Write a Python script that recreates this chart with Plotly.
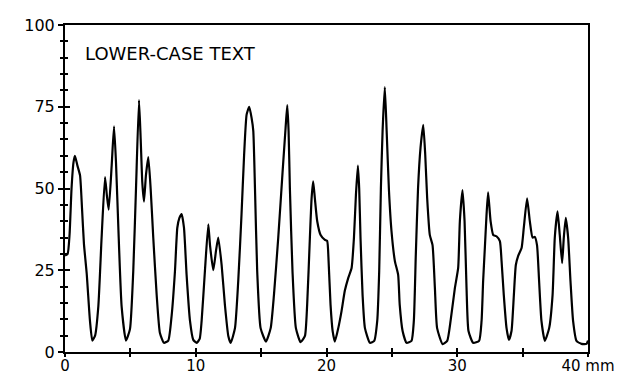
import plotly.graph_objects as go

distance_mm = [
    0.0, 0.2, 0.35, 0.5, 0.65, 0.76, 0.95, 1.15, 1.3, 1.45, 1.66, 1.91, 2.09, 2.3, 2.55, 2.8,
    3.06, 3.2, 3.34, 3.57, 3.75, 3.9, 4.08, 4.33, 4.66, 4.97, 5.22, 5.43, 5.66, 5.79, 5.91,
    6.04, 6.19, 6.37, 6.55, 6.75, 7.01, 7.26, 7.57, 7.9, 8.16, 8.41, 8.59, 8.75, 8.92, 9.1,
    9.3, 9.56, 9.81, 10.07, 10.3, 10.45, 10.7, 10.96, 11.09, 11.34, 11.55, 11.72, 11.98,
    12.23, 12.49, 12.67, 13.0, 13.25, 13.5, 13.7, 13.89, 14.09, 14.27, 14.4, 14.53, 14.7,
    14.96, 15.37, 15.73, 15.98, 16.31, 16.64, 16.87, 17.0, 17.1, 17.2, 17.4, 17.66, 18.02,
    18.35, 18.52, 18.73, 18.86, 18.98, 19.11, 19.29, 19.55, 19.88, 20.05, 20.16, 20.31,
    20.47, 20.64, 20.9, 21.15, 21.4, 21.66, 21.92, 22.1, 22.25, 22.4, 22.5, 22.6, 22.76,
    22.94, 23.32, 23.65, 23.88, 24.03, 24.16, 24.29, 24.46, 24.6, 24.77, 24.97, 25.23,
    25.48, 25.6, 25.82, 26.12, 26.5, 26.68, 26.83, 27.0, 27.19, 27.4, 27.55, 27.7, 27.9,
    28.11, 28.29, 28.46, 28.88, 29.23, 29.49, 29.82, 30.07, 30.2, 30.4, 30.56, 30.71, 30.86,
    31.22, 31.67, 31.86, 31.98, 32.11, 32.24, 32.36, 32.55, 32.75, 33.0, 33.26, 33.39,
    33.56, 33.77, 33.95, 34.15, 34.33, 34.48, 34.66, 34.92, 35.09, 35.34, 35.55, 35.76,
    35.93, 36.1, 36.26, 36.44, 36.7, 37.03, 37.29, 37.46, 37.67, 37.84, 38.02, 38.15, 38.3,
    38.48, 38.66, 38.86, 39.12, 39.5, 39.88, 40.0,
]

signal = [
    29.5, 30, 36, 50, 58, 60, 57, 54, 44, 33, 24, 9.5, 3.5, 5, 14, 35,
    53.5, 48, 43.5, 57, 69, 58, 38, 14, 3.5, 7, 24.7, 50, 77, 65, 52,
    46, 54, 59.6, 50, 35, 17.5, 5.8, 2.8, 3.5, 11.3, 24.7, 38, 41, 42.2, 38,
    23.6, 9.5, 3.7, 2.8, 4, 9.5, 24.7, 39, 32.7, 25, 31, 35, 26.6,
    14.4, 4.9, 2.8, 7.3, 21.7, 42, 60.4, 72.6, 75, 71.6, 67.6, 50, 24.7,
    7.3, 3.2, 7.3, 17.4, 35, 55, 68.5, 75.5, 67.6, 50, 24.7, 7.3, 3,
    4.9, 14.4, 35, 47, 52.2, 47, 40, 35.8, 34.3, 34, 27.8, 14.4,
    6.4, 3.2, 7.3, 12.5, 18.7, 22.6, 25.7, 35, 48, 57, 50, 35, 17.4,
    7.3, 2.8, 3.4, 9.5, 24.7, 50, 67.6, 81, 67.6, 50, 37, 27.8,
    23.6, 14.4, 6.4, 2.8, 3.4, 9.5, 29.7, 50, 62.4, 69.5, 60.4, 47, 35.8,
    32.7, 19.6, 7.3, 2.4, 3.4, 9.5, 19.6, 25.7, 40, 49.5, 40, 19.6, 6.4,
    2.8, 3.4, 9.5, 21.7, 31.8, 42, 48.8, 40, 35.8, 35.4, 33.9, 27.8,
    17.4, 7.3, 3.7, 6.4, 17.4, 26.6, 29.4, 31.8, 38, 47, 40, 35,
    35.2, 32.7, 21.7, 9.5, 3.4, 7.3, 17.4, 35, 43, 35.8, 27.2, 35, 41,
    35, 21.7, 9.5, 3.4, 2.5, 2.5, 3.5,
]

x_tickvals = [0, 10, 20, 30, 40]
x_ticktext = ["0", "10", "20", "30", "40 mm"]
y_tickvals = [0, 25, 50, 75, 100]
y_ticktext = ["0", "25", "50", "75", "100"]
label_text = "LOWER-CASE TEXT"

FONT = "DejaVu Sans"
TICK_SIZE = 16

fig = go.Figure()
fig.add_trace(go.Scatter(
    x=distance_mm, y=signal, mode="lines",
    line=dict(color="black", width=2.2, shape="spline", smoothing=0.5),
    hoverinfo="skip", showlegend=False,
))
# invisible copy to activate the overlay axes (inside half of crossing ticks)
fig.add_trace(go.Scatter(
    x=distance_mm, y=signal, mode="lines", xaxis="x2", yaxis="y2",
    line=dict(color="rgba(0,0,0,0)", width=0), hoverinfo="skip", showlegend=False,
))

axis_common = dict(showgrid=False, zeroline=False, color="black", automargin=False)

fig.update_layout(
    template="none",
    width=631, height=378,
    margin=dict(l=57, r=51, t=17, b=34, autoexpand=False),
    paper_bgcolor="white", plot_bgcolor="white",
    font=dict(family=FONT, size=TICK_SIZE, color="black"),
    xaxis=dict(
        range=[0, 40], tickvals=x_tickvals, ticktext=x_ticktext,
        ticks="outside", ticklen=3, tickwidth=1.5, tickcolor="black",
        minor=dict(dtick=5, tick0=0, ticks="outside", ticklen=3, tickwidth=1.5, tickcolor="black"),
        showline=True, linewidth=2, linecolor="black", mirror=True,
        ticklabelstandoff=-4,
        tickfont=dict(family=FONT, size=15), **axis_common,
    ),
    yaxis=dict(
        range=[0, 100], tickvals=y_tickvals, ticktext=y_ticktext,
        ticks="outside", ticklen=5, tickwidth=1.5, tickcolor="black",
        minor=dict(dtick=5, tick0=0, ticks="outside", ticklen=3, tickwidth=1.5, tickcolor="black"),
        showline=True, linewidth=2, linecolor="black", mirror=True,
        tickfont=dict(family=FONT, size=TICK_SIZE), **axis_common,
    ),
    xaxis2=dict(
        overlaying="x", matches="x", anchor="y2", side="bottom",
        range=[0, 40], tickvals=x_tickvals, showticklabels=False,
        ticks="inside", ticklen=4, tickwidth=1.5, tickcolor="black",
        minor=dict(dtick=5, tick0=0, ticks="inside", ticklen=4, tickwidth=1.5, tickcolor="black"),
        showline=False, **axis_common,
    ),
    yaxis2=dict(
        overlaying="y", matches="y", anchor="x2", side="left",
        range=[0, 100], tickvals=y_tickvals, showticklabels=False,
        ticks="inside", ticklen=5, tickwidth=1.5, tickcolor="black",
        minor=dict(dtick=5, tick0=0, ticks="inside", ticklen=3, tickwidth=1.5, tickcolor="black"),
        showline=False, **axis_common,
    ),
    annotations=[dict(
        text=label_text, xref="paper", yref="paper", x=0.034, y=0.914,
        xanchor="left", yanchor="middle", showarrow=False,
        font=dict(family=FONT, size=18, color="black"),
    )],
)

fig.write_html("out.html")
